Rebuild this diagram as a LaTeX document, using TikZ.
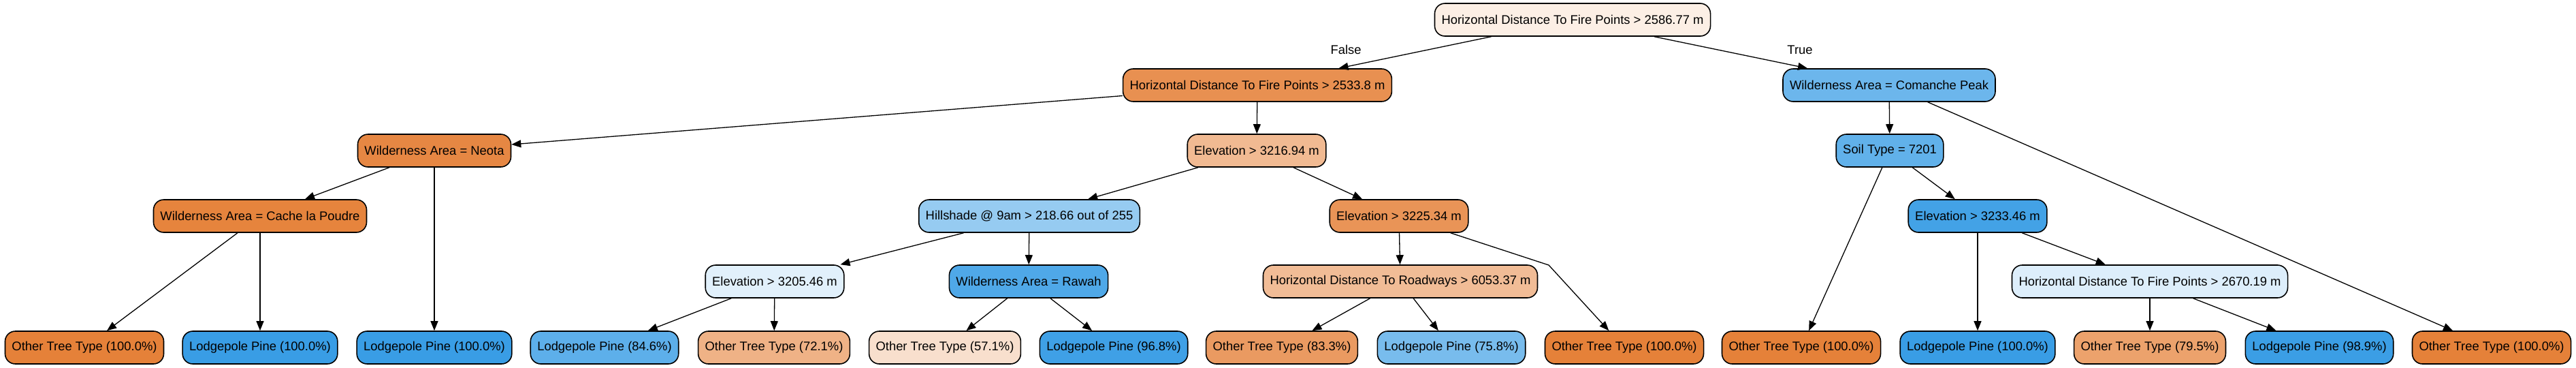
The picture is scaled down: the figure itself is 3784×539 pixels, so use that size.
\documentclass[tikz,border=0pt]{standalone}
\usepackage{fontspec}
\setmainfont{Liberation Sans}
\usetikzlibrary{arrows.meta}
\definecolor{treeorange}{RGB}{229,129,57}
\definecolor{treeblue}{RGB}{57,157,229}

\begin{document}
\begin{tikzpicture}[x=1pt, y=-1pt, line width=1.3pt, >={Triangle[length=14pt,width=11pt]},
    main/.style = {draw, line width=1.6pt, rounded corners=15pt, minimum height=48pt, inner xsep=10pt, font=\fontsize{18.4}{22}\selectfont},
    lbl/.style = {font=\fontsize{18.4}{22}\selectfont}]
    \useasboundingbox (0,0) rectangle (3784,539);
    \node[main, fill=treeorange!13!white] (1) at (2310,29) {Horizontal Distance To Fire Points > 2586.77 m};
    \node[main, fill=treeorange!88!white] (2) at (1847,125) {Horizontal Distance To Fire Points > 2533.8 m};
    \node[main, fill=treeblue!74!white] (3) at (2775,125) {Wilderness Area = Comanche Peak};
    \node[main, fill=treeorange!95!white] (4) at (638,221) {Wilderness Area = Neota};
    \node[main, fill=treeorange!55!white] (5) at (1846,221) {Elevation > 3216.94 m};
    \node[main, fill=treeblue!80!white] (6) at (2776,221) {Soil Type = 7201};
    \node[main, fill=treeorange!98!white] (7) at (382,317) {Wilderness Area = Cache la Poudre};
    \node[main, fill=treeblue!53!white] (8) at (1512,317) {Hillshade @ 9am > 218.66 out of 255};
    \node[main, fill=treeorange!85!white] (9) at (2055,317) {Elevation > 3225.34 m};
    \node[main, fill=treeblue!95!white] (10) at (2905,317) {Elevation > 3233.46 m};
    \node[main, fill=treeblue!15!white] (11) at (1138,413) {Elevation > 3205.46 m};
    \node[main, fill=treeblue!89!white] (12) at (1511,413) {Wilderness Area = Rawah};
    \node[main, fill=treeorange!53!white] (13) at (2057,413) {Horizontal Distance To Roadways > 6053.37 m};
    \node[main, fill=treeblue!17!white] (14) at (3158,413) {Horizontal Distance To Fire Points > 2670.19 m};
    % leaves
    \node[main, fill=treeorange] (15) at (124,510) {Other Tree Type (100.0\%)};
    \node[main, fill=treeblue] (16) at (382,510) {Lodgepole Pine (100.0\%)};
    \node[main, fill=treeblue] (17) at (638,510) {Lodgepole Pine (100.0\%)};
    \node[main, fill=treeblue!82!white] (18) at (888,510) {Lodgepole Pine (84.6\%)};
    \node[main, fill=treeorange!61!white] (19) at (1137,510) {Other Tree Type (72.1\%)};
    \node[main, fill=treeorange!25!white] (20) at (1388,510) {Other Tree Type (57.1\%)};
    \node[main, fill=treeblue!97!white] (21) at (1636,510) {Lodgepole Pine (96.8\%)};
    \node[main, fill=treeorange!80!white] (22) at (1883,510) {Other Tree Type (83.3\%)};
    \node[main, fill=treeblue!68!white] (23) at (2132,510) {Lodgepole Pine (75.8\%)};
    \node[main, fill=treeorange] (24) at (2386,510) {Other Tree Type (100.0\%)};
    \node[main, fill=treeorange] (25) at (2646,510) {Other Tree Type (100.0\%)};
    \node[main, fill=treeblue] (26) at (2905,510) {Lodgepole Pine (100.0\%)};
    \node[main, fill=treeorange!74!white] (27) at (3158,510) {Other Tree Type (79.5\%)};
    \node[main, fill=treeblue!99!white] (28) at (3407,510) {Lodgepole Pine (98.9\%)};
    \node[main, fill=treeorange] (29) at (3660,510) {Other Tree Type (100.0\%)};
    \node[lbl] (f) at (1977,73) {False};
    \node[lbl] (t) at (2644,73) {True};
    \coordinate (b) at (2275,389);
    \draw[->] (1) -- (2);
    \draw[->] (1) -- (3);
    \draw[->] (2) -- (4);
    \draw[->] (2) -- (5);
    \draw[->] (4) -- (7);
    \draw[->] (4) -- (17);
    \draw[->] (7) -- (15);
    \draw[->] (7) -- (16);
    \draw[->] (5) -- (8);
    \draw[->] (5) -- (9);
    \draw[->] (8) -- (11);
    \draw[->] (8) -- (12);
    \draw[->] (11) -- (18);
    \draw[->] (11) -- (19);
    \draw[->] (12) -- (20);
    \draw[->] (12) -- (21);
    \draw[->] (9) -- (13);
    \draw[->] (9) -- (b) -- (24);
    \draw[->] (13) -- (22);
    \draw[->] (13) -- (23);
    \draw[->] (3) -- (6);
    \draw[->] (3) -- (29);
    \draw[->] (6) -- (25);
    \draw[->] (6) -- (10);
    \draw[->] (10) -- (26);
    \draw[->] (10) -- (14);
    \draw[->] (14) -- (27);
    \draw[->] (14) -- (28);
\end{tikzpicture}
\end{document}
